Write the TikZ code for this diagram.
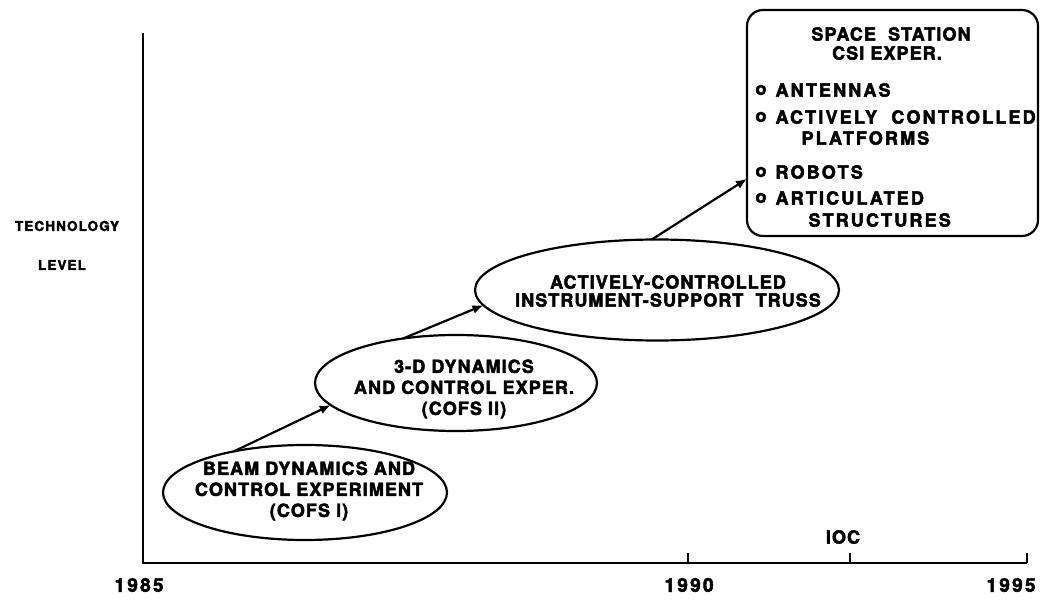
\documentclass[tikz,border=0pt]{standalone}
\usepackage{fontspec}
\setmainfont{TeX Gyre Heros}[FakeBold=2.6]
\usetikzlibrary{shapes.geometric,arrows.meta}

\begin{document}
\begin{tikzpicture}[x=1pt,y=-1pt,
  font=\bfseries\fontsize{18}{21}\selectfont\addfontfeatures{LetterSpace=6},
  blob/.style={draw,ellipse,line width=2.2pt,inner sep=0pt,outer sep=0pt},
  flow/.style={line width=2.2pt,-{Latex[length=11pt,width=9pt]}},
  axis/.style={line width=2.4pt},
  year/.style={font=\bfseries\fontsize{19}{20}\selectfont\addfontfeatures{LetterSpace=12}},
  small/.style={font=\bfseries\fontsize{13.5}{14}\selectfont\addfontfeatures{LetterSpace=8}},
  item/.style={anchor=west,font=\bfseries\fontsize{18}{21}\selectfont\addfontfeatures{LetterSpace=12}}]

\useasboundingbox (0,0) rectangle (1045,604);

% time axis and level axis
\coordinate (top) at (143,33);
\coordinate (org) at (143,563);
\coordinate (end) at (1027,563);
\draw[axis] (top) -- (org) -- (end);
\foreach \x in {688,850,1027}
  \draw[axis] (\x,563) -- (\x,553);

\node[year] (y85) at (139,585) {1985};
\node[year] (y90) at (689,585) {1990};
\node[year] (y95) at (1011,585) {1995};
\node (ioc) at (843,537) {IOC};

\node[small] (tech) at (67,226) {TECHNOLOGY};
\node[small] (lev) at (62,265) {LEVEL};

% the three experiments
\node[blob,minimum width=284pt,minimum height=95pt] (e1) at (305,492.5) {};
\node[blob,minimum width=282pt,minimum height=96pt] (e2) at (456,383) {};
\node[blob,minimum width=364pt,minimum height=101pt] (e3) at (657,290) {};

\node[align=center] (e1txt) at (309,491) {BEAM DYNAMICS AND\\CONTROL EXPERIMENT\\(COFS I)};
\node[align=center] (e2txt) at (464,389) {3-D DYNAMICS\\AND CONTROL EXPER.\\(COFS II)};
\node[align=center] (e3txt) at (668,291) {ACTIVELY-CONTROLLED\\[-3pt]INSTRUMENT-SUPPORT\ \ TRUSS};

% space station box
\node[draw,rounded corners=16pt,line width=2.2pt,minimum width=291pt,minimum height=226pt,inner sep=0pt,outer sep=0pt] (csi) at (892.5,123) {};
\node (ss) at (891,34) {SPACE\ \ STATION};
\node (csix) at (887,53) {CSI EXPER.};
\foreach \y/\t in {90/ANTENNAS,117/ACTIVELY\ \ CONTROLLED,172/ROBOTS,198/ARTICULATED}{
  \node[item] (dot\y) at (752,\y) {o};
  \node[item] (itm\y) at (772,\y) {\t};
}
\node[item] (plat) at (798,138) {PLATFORMS};
\node[item] (struc) at (805,220) {STRUCTURES};

% progression
\draw[flow] (e1.150) -- (e2.190);
\draw[flow] (e2.140) -- (e3.185);
\draw[flow] (e3.96) -- (csi.201);

\end{tikzpicture}
\end{document}
